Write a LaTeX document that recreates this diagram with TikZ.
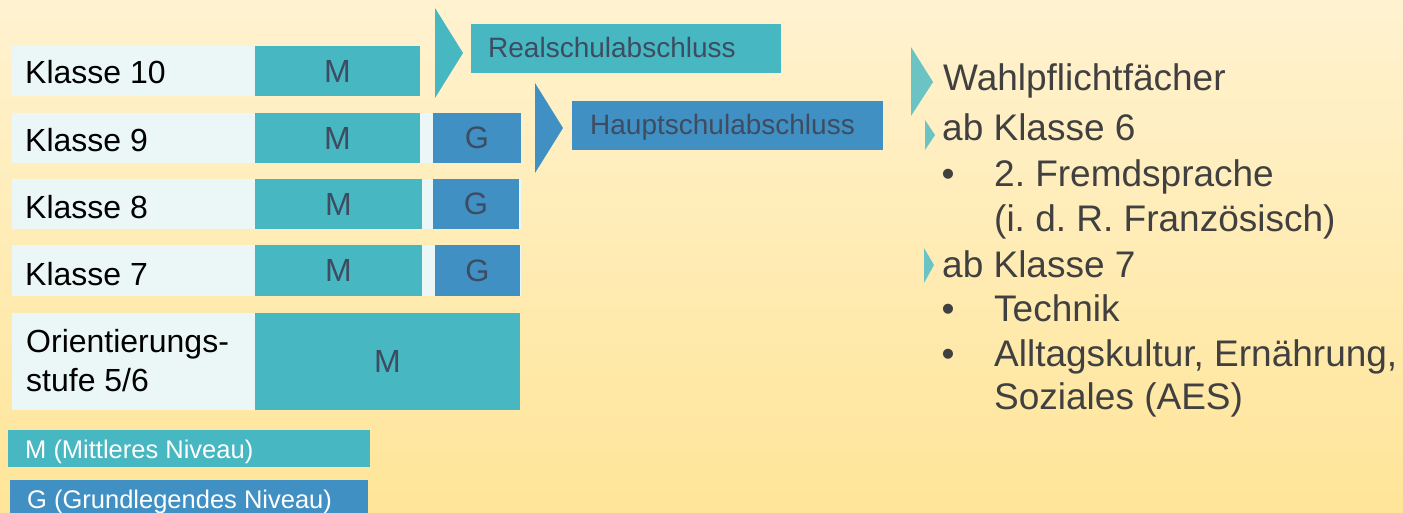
\documentclass[tikz,border=0pt]{standalone}
\usepackage{fontspec}
\setmainfont{Liberation Sans}
\frenchspacing
\definecolor{bgtop}{HTML}{FFF2D0}
\definecolor{bgbot}{HTML}{FFE598}
\definecolor{labbg}{HTML}{EAF7F6}
\definecolor{mteal}{HTML}{47B7C1}
\definecolor{gblue}{HTML}{4190C4}
\definecolor{mgtext}{HTML}{3E4C62}
\definecolor{rtext}{HTML}{404040}
\definecolor{rtri}{HTML}{6BC4C3}
\begin{document}
\begin{tikzpicture}[x=1pt,y=-1pt,
  box/.style={inner sep=0pt, outer sep=0pt, anchor=north west, draw=none},
  labrow/.style={box, fill=labbg},
  mbox/.style={box, fill=mteal, text=mgtext, font=\fontsize{32}{36}\selectfont},
  gbox/.style={box, fill=gblue, text=mgtext, font=\fontsize{31}{36}\selectfont},
  kl/.style={anchor=base west, inner sep=0pt, text=black, font=\fontsize{32}{38}\selectfont},
  abs/.style={anchor=base west, inner sep=0pt, text=mgtext, font=\fontsize{28}{32}\selectfont},
  leg/.style={anchor=base west, inner sep=0pt, text=white, font=\fontsize{25.5}{30}\selectfont},
  rt/.style={anchor=base west, inner sep=0pt, text=rtext, font=\fontsize{37}{44}\selectfont},
  bul/.style={anchor=base, inner sep=0pt, text=rtext, font=\fontsize{37}{44}\selectfont}]
\useasboundingbox (0,0) rectangle (1403,513);
\shade[top color=bgtop, bottom color=bgbot] (0,0) rectangle (1403,513);

% label rows
\node[labrow, minimum width=408pt, minimum height=50pt] (r10) at (12,46) {};
\node[labrow, minimum width=509pt, minimum height=50pt] (r9) at (12,113) {};
\node[labrow, minimum width=509pt, minimum height=50pt] (r8) at (12,179) {};
\node[labrow, minimum width=509pt, minimum height=51pt] (r7) at (12,245) {};
\node[labrow, minimum width=508pt, minimum height=97pt] (ro) at (12,313) {};

% labels
\node[kl] (k10) at (25,84) {Klasse 10};
\node[kl] (k9) at (25,152) {Klasse 9};
\node[kl] (k8) at (25,219) {Klasse 8};
\node[kl] (k7) at (25,285) {Klasse 7};
\node[kl] (ko1) at (26,352) {Orientierungs-};
\node[kl] (ko2) at (26,391) {stufe 5/6};

% M boxes
\node[mbox, minimum width=165pt, minimum height=50pt] (m10) at (255,46) {M};
\node[mbox, minimum width=165pt, minimum height=50pt] (m9) at (255,113) {M};
\node[mbox, minimum width=167pt, minimum height=50pt] (m8) at (255,179) {M};
\node[mbox, minimum width=167pt, minimum height=51pt] (m7) at (255,245) {M};
\node[mbox, minimum width=265pt, minimum height=97pt] (mo) at (255,313) {M};

% G boxes
\node[gbox, minimum width=88pt, minimum height=50pt] (g9) at (433,113) {G};
\node[gbox, minimum width=86pt, minimum height=50pt] (g8) at (433,179) {G};
\node[gbox, minimum width=85pt, minimum height=51pt] (g7) at (435,245) {G};

% Abschluss chevrons and boxes
\fill[mteal] (435,8) -- (463,53) -- (435,98) -- cycle;
\node[box, fill=mteal, minimum width=310pt, minimum height=49pt] (rs) at (471,24) {};
\node[abs] (rst) at (488,58) {Realschulabschluss};
\fill[gblue] (535,83) -- (563,128) -- (535,173) -- cycle;
\node[box, fill=gblue, minimum width=311pt, minimum height=49pt] (hs) at (572,101) {};
\node[abs] (hst) at (590,135) {Hauptschulabschluss};

% legend
\node[box, fill=mteal, minimum width=362pt, minimum height=37pt] (lm) at (8,430) {};
\node[leg] (lmt) at (25,458) {M (Mittleres Niveau)};
\node[box, fill=gblue, minimum width=358pt, minimum height=40pt] (lg) at (10,480) {};
\node[leg] (lgt) at (27,508) {G (Grundlegendes Niveau)};

% right side
\fill[rtri] (911,47) -- (933,82) -- (911,116) -- cycle;
\fill[rtri] (925,120) -- (935,135) -- (925,150) -- cycle;
\fill[rtri] (924,248) -- (934,265) -- (924,283) -- cycle;
\node[rt] (w1) at (943,91) {Wahlpflichtfächer};
\node[rt] (w2) at (942,141) {ab Klasse 6};
\node[bul] (b1) at (948,187) {•};
\node[rt] (w3) at (994,187) {2. Fremdsprache};
\node[rt] (w4) at (994,232) {(i. d. R. Französisch)};
\node[rt] (w5) at (942,277) {ab Klasse 7};
\node[bul] (b2) at (948,321) {•};
\node[rt] (w6) at (994,321) {Technik};
\node[bul] (b3) at (948,366) {•};
\node[rt] (w7) at (994,366) {Alltagskultur, Ernährung,};
\node[rt] (w8) at (994,409) {Soziales (AES)};
\end{tikzpicture}
\end{document}
